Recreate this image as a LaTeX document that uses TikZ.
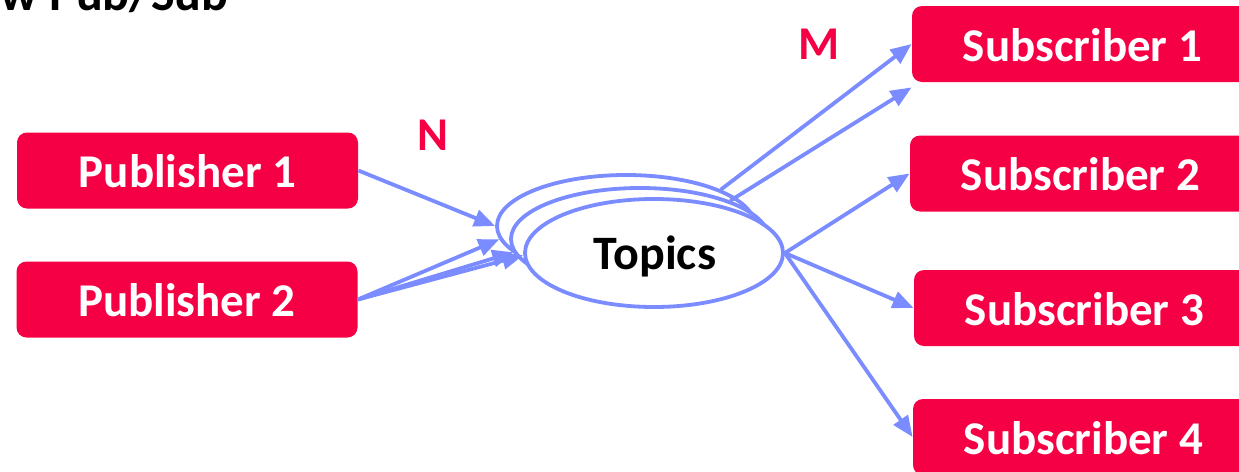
\documentclass[tikz,border=0pt]{standalone}
\usepackage{fontspec}
\setmainfont{Carlito}
\usetikzlibrary{arrows.meta,shapes.geometric}
\definecolor{boxred}{RGB}{245,0,68}
\definecolor{linkblue}{RGB}{122,140,255}
\tikzset{
  rolebox/.style={rectangle, rounded corners=5pt, fill=boxred, text=white,
    minimum width=170.5pt, minimum height=38pt, inner sep=0pt,
    font=\fontsize{23.5}{28}\selectfont\bfseries, text height=17pt, text depth=0pt},
  topic/.style={ellipse, draw=linkblue, fill=white, line width=1.9pt,
    minimum width=129pt, minimum height=54pt, inner sep=0pt},
  backtopic/.style={topic, minimum height=51pt},
  link/.style={draw=linkblue, line width=1.9pt, -{Triangle[length=10.5pt,width=8.5pt]}},
  count/.style={text=boxred, font=\fontsize{23.5}{28}\selectfont\bfseries, inner sep=0pt},
}
\begin{document}
\begin{tikzpicture}[x=0.5pt,y=-0.5pt]
\useasboundingbox (0,0) rectangle (1239,472);
\clip (0,0) rectangle (1239,472);
% title (cut at the top)
\node[anchor=base east, inner sep=0pt, font=\fontsize{25}{30}\selectfont\bfseries] (title) at (229,10) {w Pub/Sub};
% boxes
\node[rolebox] (p1) at (187.5,170.5) {Publisher 1};
\node[rolebox] (p2) at (187,299.5) {Publisher 2};
\node[rolebox] (s1) at (1082.5,44) {Subscriber 1};
\node[rolebox] (s2) at (1080.5,173.5) {Subscriber 2};
\node[rolebox] (s3) at (1084.5,308) {Subscriber 3};
\node[rolebox] (s4) at (1083.5,437) {Subscriber 4};
% topics
\node[backtopic] (e3) at (626,226) {};
\node[backtopic] (e2) at (640,239) {};
\node[topic] (e1) at (654,253) {};
\node[anchor=base, inner sep=0pt, font=\fontsize{24}{28}\selectfont\bfseries] (tl) at (655,269) {Topics};
% counts
\node[count] (n) at (433,135) {N};
\node[count] (m) at (819,44) {M};
% connectors
\draw[link] (p1.east) -- (e3.180);
\draw[link] (p2.east) -- (e3.186);
\draw[link] (p2.east) -- (e2.186);
\draw[link] (p2.east) -- (e1.181);
\draw[link] (e3.21) -- (s1.west);
\draw[link] (e2.23) -- ([yshift=-2.5pt]s1.south west);
\draw[link] (e1.east) -- (s2.west);
\draw[link] (e1.east) -- (s3.west);
\draw[link] (e1.east) -- (s4.west);
\end{tikzpicture}
\end{document}
